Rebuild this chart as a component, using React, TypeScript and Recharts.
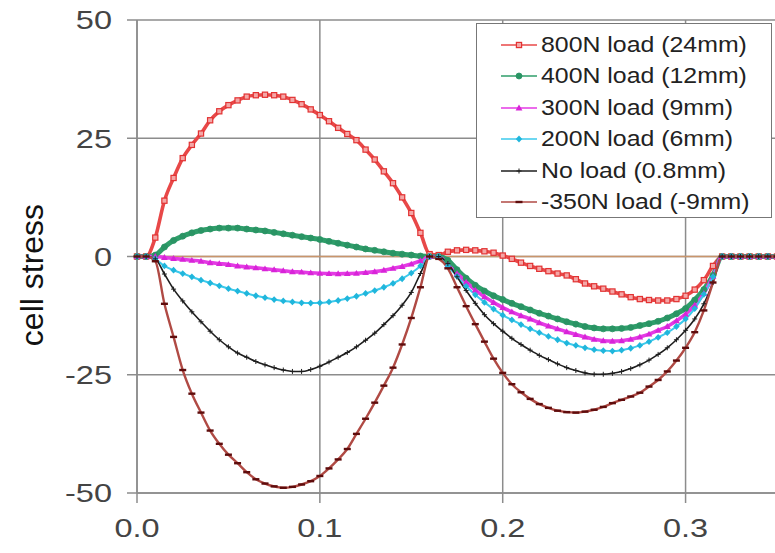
import React from 'react'
import {
  LineChart,
  Line,
  XAxis,
  YAxis,
  CartesianGrid,
  ReferenceLine,
  Legend,
} from 'recharts'

// position along the beam (same x for every series)
const X_VALUES = [
  0, 0.005, 0.01, 0.015, 0.02, 0.025, 0.03, 0.035, 0.04, 0.045, 0.05, 0.055,
  0.06, 0.065, 0.07, 0.075, 0.08, 0.085, 0.09, 0.095, 0.1, 0.105, 0.11, 0.115,
  0.12, 0.125, 0.13, 0.135, 0.14, 0.145, 0.15, 0.155, 0.16, 0.165, 0.17, 0.175,
  0.18, 0.185, 0.19, 0.195, 0.2, 0.205, 0.21, 0.215, 0.22, 0.225, 0.23, 0.235,
  0.24, 0.245, 0.25, 0.255, 0.26, 0.265, 0.27, 0.275, 0.28, 0.285, 0.29, 0.295,
  0.3, 0.305, 0.31, 0.315, 0.32, 0.325, 0.33, 0.335, 0.34, 0.345, 0.35,
]

const LOAD_800 = [
  0, 0,
  4, 11.8, 16.6, 20.8, 23.6, 26, 28.8, 30.7, 32, 33, 33.8, 34.1, 34.2, 34.1,
  33.8, 33.1, 32.2, 31.1, 29.9, 28.6, 27.2, 25.9, 24.6, 22.6, 20.5, 18, 15.5,
  12.5, 9.2, 5, 0.5,
  0.3, 1.0, 1.3, 1.4, 1.3, 1.1, 0.8, 0.2, -0.5, -1.3, -2, -2.6, -3.1, -3.6, -4,
  -4.8, -5.7, -6.3, -6.8, -7.4, -8, -8.6, -9, -9.2, -9.3, -9.3, -9, -8.3, -7,
  -5, -2, 0,
  0, 0, 0, 0, 0, 0,
]

const LOAD_400 = [
  0, 0,
  0.3, 2, 3.4, 4.3, 5, 5.5, 5.8, 6, 6, 6, 5.8, 5.6, 5.4, 5.1, 4.8, 4.5, 4.2,
  3.9, 3.6, 3.2, 2.8, 2.4, 2.0, 1.6, 1.3, 1, 0.7, 0.5, 0.3, 0.1, 0,
  0, -0.8, -2.8, -4.6, -6.1, -7.3, -8.3, -9.1, -9.9, -10.6, -11.3, -12, -12.6,
  -13.2, -13.8, -14.3, -14.8, -15.1, -15.3, -15.3, -15.2, -15, -14.6, -14.2,
  -13.7, -13, -12.1, -11, -9.2, -7, -4, 0,
  0, 0, 0, 0, 0, 0,
]

const LOAD_300 = [
  0, 0,
  0, -0.2, -0.4, -0.6, -0.8, -1, -1.3, -1.5, -1.7, -2, -2.2, -2.4, -2.6, -2.8,
  -3, -3.2, -3.3, -3.45, -3.55, -3.6, -3.65, -3.6, -3.55, -3.4, -3.2, -2.9,
  -2.5, -2.1, -1.6, -0.9, 0,
  0, -1.8, -3.6, -5.4, -7.1, -8.5, -9.7, -10.8, -11.7, -12.5, -13.2, -14,
  -14.7, -15.3, -15.9, -16.5, -17, -17.5, -17.8, -17.9, -17.8, -17.5, -17,
  -16.4, -15.6, -14.8, -13.6, -12.2, -10.3, -7.8, -4.2, 0,
  0, 0, 0, 0, 0, 0,
]

const LOAD_200 = [
  0, 0,
  -0.5, -2, -2.9, -3.6, -4.3, -5, -5.6, -6.2, -6.8, -7.3, -7.8, -8.3, -8.7,
  -9.1, -9.4, -9.6, -9.8, -9.85, -9.8, -9.6, -9.3, -8.9, -8.4, -7.8, -7.2,
  -6.5, -5.7, -4.7, -3.5, -2, 0,
  0, -2, -4.2, -6.3, -8.1, -9.7, -11.1, -12.4, -13.4, -14.4, -15.3, -16.1,
  -16.9, -17.6, -18.3, -18.8, -19.3, -19.7, -19.9, -20, -19.8, -19.4, -18.8,
  -18, -17.1, -16.1, -14.8, -13.2, -11, -8, -4.3, 0,
  0, 0, 0, 0, 0, 0,
]

const NO_LOAD = [
  0, 0,
  -0.5, -3.7, -6.9, -9.4, -11.7, -13.8, -15.8, -17.6, -19.1, -20.4, -21.3,
  -22.2, -22.9, -23.5, -24, -24.3, -24.3, -23.9, -23.2, -22.3, -21.3, -20.3,
  -19.1, -17.7, -16.2, -14.4, -12.5, -10.3, -7.6, -3.6, 0,
  0, -1.5, -4.3, -7.2, -9.9, -12.3, -14.2, -15.8, -17.3, -18.6, -19.8, -20.9,
  -21.8, -22.7, -23.5, -24.1, -24.6, -24.9, -24.9, -24.7, -24.3, -23.7, -22.9,
  -21.9, -20.7, -19.3, -17.6, -15.6, -13.2, -10, -5.5, 0,
  0, 0, 0, 0, 0, 0,
]

const LOAD_NEG350 = [
  0, 0,
  -1, -10, -17, -24, -29, -33, -36.8, -39.6, -41.9, -43.7, -45.6, -47.1, -48,
  -48.6, -48.9, -48.7, -48.2, -47.5, -46.4, -44.8, -42.9, -40.7, -37.5, -34.3,
  -30.9, -27.3, -23.5, -18.6, -13, -6.5, 0,
  -0.5, -2.5, -6.5, -10.5, -14.3, -18, -21.6, -24.6, -27, -28.7, -30.1, -31.2,
  -32, -32.6, -32.9, -33, -32.8, -32.4, -31.8, -31, -30.3, -29.6, -28.8, -27.5,
  -26.1, -24.3, -22, -19.3, -16, -11.4, -5.5, 0,
  0, 0, 0, 0, 0, 0,
]

const X_TICKS = [0, 0.1, 0.2, 0.3]
const Y_TICKS = [-50, -25, 0, 25, 50]

const FONT = '"Liberation Sans", Arial, sans-serif'

type Marker = 'square' | 'circle' | 'triangle' | 'diamond' | 'plus' | 'dash'

const SERIES: {
  key: string
  name: string
  values: number[]
  line: string
  width: number
  mark: string
  fill: string
  marker: Marker
}[] = [
  { key: 's800', name: '800N load (24mm)', values: LOAD_800, line: '#e84848', width: 3.6, mark: '#e23232', fill: '#f4a6a6', marker: 'square' },
  { key: 's400', name: '400N load (12mm)', values: LOAD_400, line: '#2f9e6a', width: 5, mark: '#2a9464', fill: '#2a9464', marker: 'circle' },
  { key: 's300', name: '300N load (9mm)', values: LOAD_300, line: '#e43ae4', width: 3.6, mark: '#d824d8', fill: '#d824d8', marker: 'triangle' },
  { key: 's200', name: '200N load (6mm)', values: LOAD_200, line: '#3ccaec', width: 2, mark: '#20b6dc', fill: '#20b6dc', marker: 'diamond' },
  { key: 's0', name: 'No load (0.8mm)', values: NO_LOAD, line: '#1e1e1e', width: 1.6, mark: '#1e1e1e', fill: '#1e1e1e', marker: 'plus' },
  { key: 'sneg', name: '-350N load (-9mm)', values: LOAD_NEG350, line: '#b04a44', width: 2.4, mark: '#5e0c0c', fill: '#5e0c0c', marker: 'dash' },
]

const data = X_VALUES.map((x, i) => {
  const row: Record<string, number> = { x }
  SERIES.forEach((s) => {
    row[s.key] = s.values[i]
  })
  return row
})

function markerShape(marker: Marker, cx: number, cy: number, stroke: string, fill: string) {
  switch (marker) {
    case 'square':
      return <rect x={cx - 2.6} y={cy - 2.6} width={5.2} height={5.2} fill={fill} stroke={stroke} strokeWidth={1.2} />
    case 'circle':
      return <circle cx={cx} cy={cy} r={3} fill={fill} stroke={stroke} strokeWidth={0.8} />
    case 'triangle':
      return <polygon points={`${cx},${cy - 3.4} ${cx + 3.4},${cy + 2.5} ${cx - 3.4},${cy + 2.5}`} fill={fill} />
    case 'diamond':
      return <polygon points={`${cx},${cy - 3.4} ${cx + 3.2},${cy} ${cx},${cy + 3.4} ${cx - 3.2},${cy}`} fill={fill} />
    case 'plus':
      return (
        <g stroke={stroke} strokeWidth={1}>
          <line x1={cx - 2.5} y1={cy} x2={cx + 2.5} y2={cy} />
          <line x1={cx} y1={cy - 2.5} x2={cx} y2={cy + 2.5} />
        </g>
      )
    default:
      return <line x1={cx - 3.5} y1={cy} x2={cx + 3.5} y2={cy} stroke={stroke} strokeWidth={2.4} />
  }
}

const makeDot = (s: (typeof SERIES)[number]) => (p: any) => {
  if (p.cx == null || p.cy == null) return <g key={`${s.key}-${p.index}`} />
  return <g key={`${s.key}-${p.index}`}>{markerShape(s.marker, p.cx, p.cy, s.mark, s.fill)}</g>
}

const YTick = (props: any) => {
  const { y, payload } = props
  return (
    <g transform={`translate(112, ${y})`}>
      <text transform="scale(1.25,1)" textAnchor="end" dy="0.36em" fontSize={26} fill="#444" fontFamily={FONT}>
        {payload.value}
      </text>
    </g>
  )
}

const XTick = (props: any) => {
  const { x, payload } = props
  return (
    <g transform={`translate(${x}, 528)`}>
      <text transform="scale(1.25,1)" textAnchor="middle" dy="0.36em" fontSize={26} fill="#444" fontFamily={FONT}>
        {payload.value.toFixed(1)}
      </text>
    </g>
  )
}

const YLabel = () => (
  <text
    x={31}
    y={275}
    transform="rotate(-90, 31, 275)"
    textAnchor="middle"
    dy="0.36em"
    fontSize={32}
    fill="#111"
    fontFamily={FONT}
  >
    cell stress
  </text>
)

const LegendBox = () => (
  <div
    style={{
      width: 296,
      height: 195,
      border: '1.5px solid #777',
      background: '#fff',
      boxSizing: 'border-box',
      paddingTop: 5,
      fontFamily: FONT,
    }}
  >
    {SERIES.map((s) => (
      <div key={s.key} style={{ height: 31.5, display: 'flex', alignItems: 'center' }}>
        <svg width={64} height={14} style={{ flex: 'none' }}>
          <line x1={24} y1={7} x2={60} y2={7} stroke={s.line} strokeWidth={1.5} />
          {markerShape(s.marker, 42, 7, s.mark, s.fill)}
        </svg>
        <span
          style={{
            fontSize: 22,
            color: '#222',
            whiteSpace: 'nowrap',
            display: 'inline-block',
            transform: 'scaleX(1.13)',
            transformOrigin: 'left center',
          }}
        >
          {s.name}
        </span>
      </div>
    ))}
  </div>
)

export default function App() {
  return (
    <div style={{ position: 'absolute', left: 0, top: 0, width: 775, height: 553, overflow: 'hidden', background: '#fff' }}>
      <LineChart width={777} height={553} data={data} margin={{ top: 20, right: 0, bottom: 0, left: 0 }}>
        <CartesianGrid stroke="#8c8c8c" strokeWidth={1.5} />
        <XAxis
          dataKey="x"
          type="number"
          domain={[0, 0.35]}
          ticks={X_TICKS}
          height={60}
          tickSize={10}
          stroke="#8c8c8c"
          strokeWidth={1.5}
          tick={<XTick />}
        />
        <YAxis
          type="number"
          domain={[-50, 50]}
          ticks={Y_TICKS}
          width={137}
          tickSize={10}
          stroke="#8c8c8c"
          strokeWidth={1.5}
          tick={<YTick />}
          label={{ content: () => <YLabel /> }}
        />
        <ReferenceLine y={0} stroke="#c9956b" strokeWidth={1.5} />
        {SERIES.map((s) => (
          <Line
            key={s.key}
            dataKey={s.key}
            name={s.name}
            type="monotone"
            stroke={s.line}
            strokeWidth={s.width}
            dot={makeDot(s)}
            activeDot={false}
            isAnimationActive={false}
          />
        ))}
        <Legend
          layout="vertical"
          align="center"
          verticalAlign="middle"
          width={296}
          wrapperStyle={{ left: 476, top: 23 }}
          content={() => <LegendBox />}
        />
      </LineChart>
    </div>
  )
}
